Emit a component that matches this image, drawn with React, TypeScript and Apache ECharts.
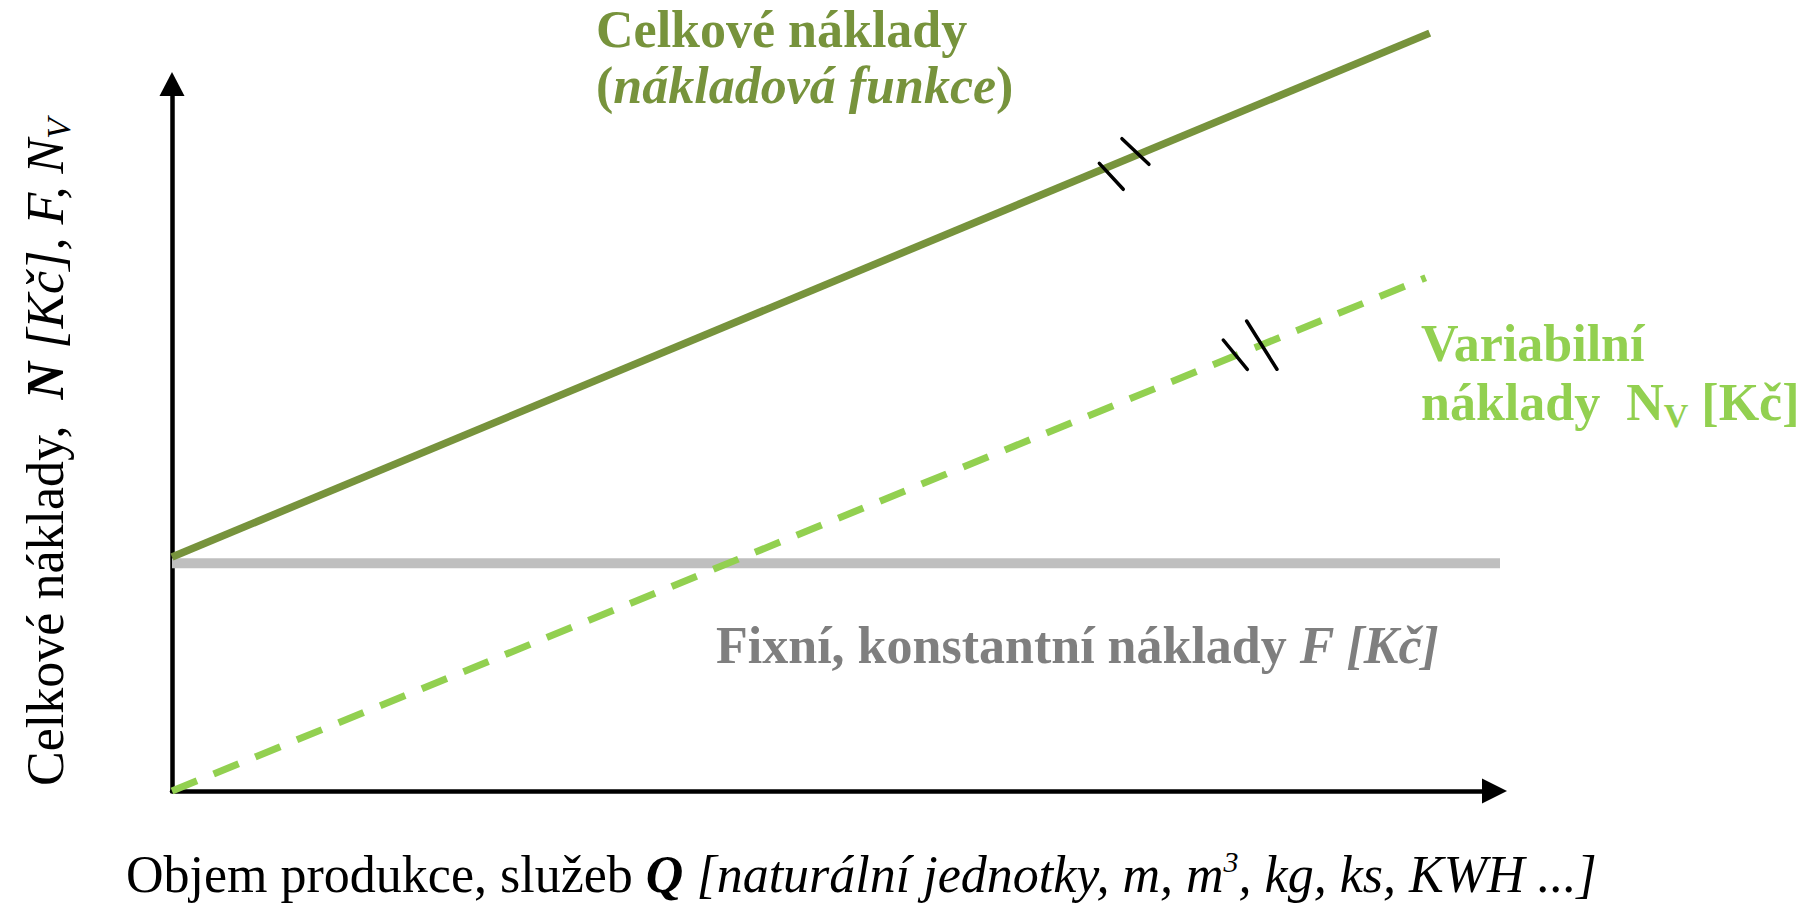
import React, { useEffect, useRef } from "react";
import * as echarts from "echarts";

// ---- data (value space: x 0..100, y 0..100) ----
const xRange = [0, 100];
const yRange = [0, 100];
const fixedCosts: number[][] = [[0, 32.2], [100.9, 32.2]];
const totalCosts: number[][] = [[0, 33.1], [95.1, 107.2]];
const variableCosts: number[][] = [[0, 0], [94.8, 72.6]];
const totalBreakMarks: number[][][] = [
  [[70.12, 88.78], [71.93, 85.11]],
  [[71.83, 92.26], [73.87, 88.64]],
];
const variableBreakMarks: number[][][] = [
  [[79.49, 63.79], [81.31, 59.65]],
  [[81.26, 66.48], [83.55, 59.65]],
];

const titleLines = ["Celkové náklady", "(", "nákladová funkce", ")"];
const variableLabel = ["Variabilní", "náklady  N", "V", " [Kč]"];
const fixedLabel = ["Fixní, konstantní náklady ", "F [Kč]"];
const xTitle = ["Objem produkce, služeb ", "Q", " [naturální jednotky, m, m", "3", ", kg, ks, KWH ...]"];
const yTitle = ["Celkové náklady,  ", "N", " [Kč], F, N", "V"];

const SERIF = "'Liberation Serif', 'Times New Roman', serif";
const DARK_GREEN = "#77933C";
const LIGHT_GREEN = "#92D050";
const GREY_LINE = "#BFBFBF";
const GREY_TEXT = "#7F7F7F";

function tok(size: number, weight: string, style: string, fill: string, lh: number, va?: string) {
  const t: any = { fontSize: size, fontWeight: weight, fontStyle: style, fontFamily: SERIF, fill, color: fill, lineHeight: lh };
  if (va) t.verticalAlign = va;
  return t;
}

export default function App() {
  const ref = useRef<HTMLDivElement>(null);
  useEffect(() => {
    if (!ref.current) return;
    const chart = echarts.init(ref.current, undefined, { renderer: "svg" });
    const option: any = {
      animation: false,
      backgroundColor: "#ffffff",
      grid: { left: 172, right: 317.5, top: 84, bottom: 113, containLabel: false },
      xAxis: {
        type: "value",
        min: xRange[0],
        max: xRange[1],
        axisLine: { show: true, lineStyle: { color: "#000", width: 4.5 }, symbol: ["none", "triangle"], symbolSize: [25, 25] },
        axisTick: { show: false },
        axisLabel: { show: false },
        splitLine: { show: false },
      },
      yAxis: {
        type: "value",
        min: yRange[0],
        max: yRange[1],
        axisLine: { show: true, lineStyle: { color: "#000", width: 4.5 }, symbol: ["none", "triangle"], symbolSize: [25, 24] },
        axisTick: { show: false },
        axisLabel: { show: false },
        splitLine: { show: false },
      },
      series: [
        {
          type: "line",
          data: fixedCosts,
          symbol: "none",
          clip: false,
          lineStyle: { color: GREY_LINE, width: 10, cap: "butt" },
          z: 2,
        },
        {
          type: "line",
          data: variableCosts,
          symbol: "none",
          clip: false,
          lineStyle: { color: LIGHT_GREEN, width: 7, type: [27, 18], cap: "butt" },
          z: 3,
        },
        {
          type: "line",
          data: totalCosts,
          symbol: "none",
          clip: false,
          lineStyle: { color: DARK_GREEN, width: 7.5, cap: "butt" },
          z: 4,
        },
        {
          type: "lines",
          coordinateSystem: "cartesian2d",
          data: [...totalBreakMarks, ...variableBreakMarks].map((c) => ({ coords: c })),
          lineStyle: { color: "#000", width: 3.5, cap: "round", opacity: 1 },
          z: 5,
        },
      ],
      graphic: [
        {
          type: "text",
          x: 596,
          y: 1.5,
          style: {
            text: `{a|${titleLines[0]}}\n{a|${titleLines[1]}}{b|${titleLines[2]}}{a|${titleLines[3]}}`,
            align: "left",
            verticalAlign: "top",
            textAlign: "left",
            textVerticalAlign: "top",
            rich: {
              a: tok(52, "bold", "normal", DARK_GREEN, 56),
              b: tok(52, "bold", "italic", DARK_GREEN, 56),
            },
          },
        },
        {
          type: "text",
          x: 1421,
          y: 314,
          style: {
            text: `{a|${variableLabel[0]}}\n{a|${variableLabel[1]}}{s|${variableLabel[2]}}{a|${variableLabel[3]}}`,
            align: "left",
            verticalAlign: "top",
            textAlign: "left",
            textVerticalAlign: "top",
            rich: {
              a: tok(52, "bold", "normal", LIGHT_GREEN, 59),
              s: tok(34, "bold", "normal", LIGHT_GREEN, 34, "bottom"),
            },
          },
        },
        {
          type: "text",
          x: 716,
          y: 615,
          style: {
            text: `{a|${fixedLabel[0]}}{b|${fixedLabel[1]}}`,
            align: "left",
            verticalAlign: "top",
            textAlign: "left",
            textVerticalAlign: "top",
            rich: {
              a: tok(52, "bold", "normal", GREY_TEXT, 60),
              b: tok(52, "bold", "italic", GREY_TEXT, 60),
            },
          },
        },
        {
          type: "text",
          x: 126,
          y: 846,
          style: {
            text: `{a|${xTitle[0]}}{b|${xTitle[1]}}{c|${xTitle[2]}}{s|${xTitle[3]}}{c|${xTitle[4]}}`,
            align: "left",
            verticalAlign: "top",
            textAlign: "left",
            textVerticalAlign: "top",
            rich: {
              a: tok(52, "normal", "normal", "#000", 57),
              b: tok(52, "bold", "italic", "#000", 57),
              c: tok(52, "normal", "italic", "#000", 57),
              s: tok(30, "normal", "italic", "#000", 30, "top"),
            },
          },
        },
        {
          type: "text",
          x: 45,
          y: 452,
          rotation: Math.PI / 2,
          style: {
            text: `{a|${yTitle[0]}}{b|${yTitle[1]}}{c|${yTitle[2]}}{s|${yTitle[3]}}`,
            align: "center",
            verticalAlign: "middle",
            textAlign: "center",
            textVerticalAlign: "middle",
            rich: {
              a: tok(52, "normal", "normal", "#000", 60),
              b: tok(52, "bold", "italic", "#000", 60),
              c: tok(52, "normal", "italic", "#000", 60),
              s: tok(34, "normal", "italic", "#000", 34, "bottom"),
            },
          },
        },
      ],
    };
    chart.setOption(option);
    return () => chart.dispose();
  }, []);
  return (
    <div
      ref={ref}
      style={{ position: "fixed", left: 0, top: 0, width: 1812, height: 904, background: "#fff" }}
    />
  );
}
